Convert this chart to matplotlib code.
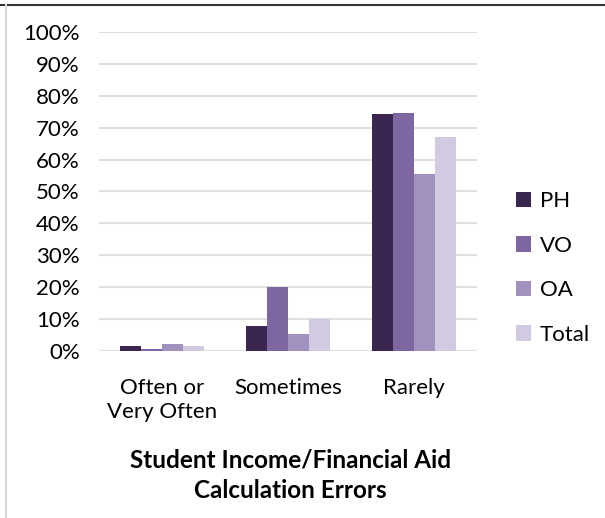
import numpy as np
import matplotlib.pyplot as plt
from matplotlib.lines import Line2D
from matplotlib.ticker import PercentFormatter

plt.rcParams['font.family'] = ['Lato', 'DejaVu Sans']

categories = ['Often or\nVery Often', 'Sometimes', 'Rarely']
series = ['PH', 'VO', 'OA', 'Total']
ph = [0.016, 0.076, 0.742]
vo = [0.006, 0.199, 0.745]
oa = [0.020, 0.052, 0.554]
total = [0.015, 0.098, 0.671]
colors = ['#3a2650', '#7e67a0', '#a091bf', '#d2cae1']

fig = plt.figure(figsize=(6.05, 5.18), dpi=100)
ax = fig.add_axes([0.164, 0.323, 0.624, 0.615])

x = np.arange(len(categories))
w = 1 / 6
for i, (name, vals) in enumerate(zip(series, [ph, vo, oa, total])):
    ax.bar(x + (i - 1.5) * w, vals, w, color=colors[i], label=name, zorder=3)

ax.set_xlim(-0.5, 2.5)
ax.set_ylim(0, 1)
ax.set_yticks(np.arange(0, 1.01, 0.1))
ax.yaxis.set_major_formatter(PercentFormatter(1, decimals=0))
ax.set_xticks(x)
ax.set_xticklabels(categories, fontsize=16, linespacing=1.25)
ax.tick_params(axis='y', labelsize=16, length=0, pad=14)
ax.tick_params(axis='x', length=0, pad=20)
ax.grid(axis='y', color='#e0e0e0', linewidth=1.5, zorder=0)
for s in ax.spines.values():
    s.set_visible(False)

fig.text(0.48, 0.03, 'Student Income/Financial Aid\nCalculation Errors',
         ha='center', va='bottom', fontsize=17.5, fontweight='bold', linespacing=1.42)

ax.legend(loc='center left', bbox_to_anchor=(1.05, 0.26), frameon=False,
          fontsize=16, handlelength=0.7, handleheight=0.7, handletextpad=0.4,
          labelspacing=1.1)

fig.add_artist(Line2D([0, 1], [1 - 5 / 518, 1 - 5 / 518], color='#333333', linewidth=1.5))
fig.add_artist(Line2D([6 / 605, 6 / 605], [0, 1 - 5 / 518], color='#d8d8d8', linewidth=1.5))

fig.savefig('out.png', dpi=100)
